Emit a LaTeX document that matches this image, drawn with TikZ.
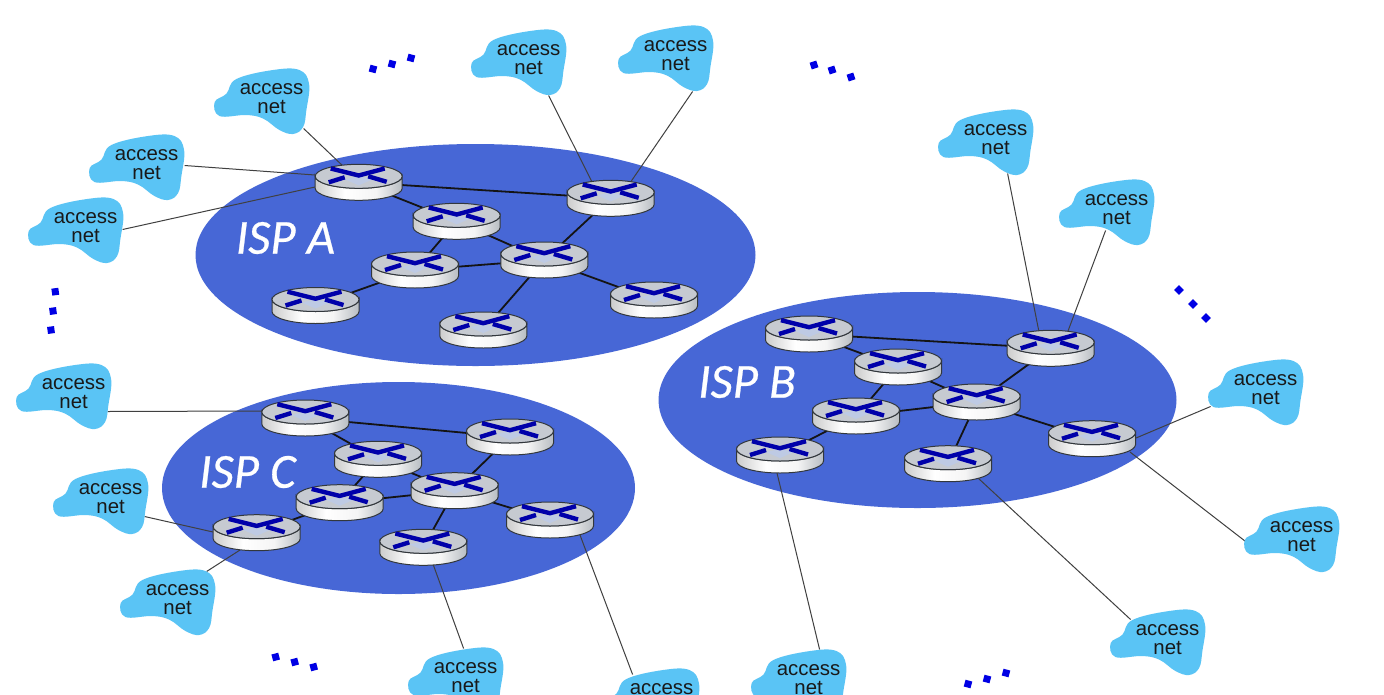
\documentclass[tikz,border=0pt]{standalone}
\usepackage{fontspec}
\setmainfont{Liberation Sans}
\newfontfamily\ispfont[ItalicFeatures={FakeBold=0.5}]{Carlito}
\definecolor{ispblue}{RGB}{71,103,214}
\definecolor{netblue}{RGB}{90,196,245}
\definecolor{xblue}{RGB}{0,0,170}
\definecolor{dotblue}{RGB}{0,0,228}
\definecolor{topgray}{RGB}{198,202,209}
\definecolor{paleblue}{RGB}{190,202,228}
\definecolor{rim}{RGB}{50,55,60}
\pgfdeclarelayer{ell}
\pgfdeclarelayer{lines}
\pgfsetlayers{ell,lines,main}
\pgfdeclarehorizontalshading{routerbody}{100bp}{
  rgb(0bp)=(0.80,0.80,0.80);
  rgb(25bp)=(0.80,0.80,0.80);
  rgb(42bp)=(1,1,1);
  rgb(60bp)=(0.96,0.96,0.96);
  rgb(75bp)=(0.72,0.74,0.76);
  rgb(100bp)=(0.72,0.74,0.76)}
\tikzset{
  x=1pt,y=-1pt,
  ispzone/.style={fill=ispblue,draw=none},
  isplabel/.style={font=\ispfont\itshape\fontsize{49}{49}\selectfont,text=white,inner sep=0pt},
  nettext/.style={font=\fontsize{20.4}{18.6}\selectfont,text=black!90,align=center,inner sep=0pt},
  netblob/.style={fill=netblue,draw=none},
  corelink/.style={draw=black!92,line width=1.8pt},
  acclink/.style={draw=black!75,line width=1pt},
  dotmark/.style={fill=dotblue,draw=none},
  pics/routerpic/.style={code={
    \path[shading=routerbody,draw=rim,line width=1pt]
      (-43.5,-6) -- (-43.5,6) arc[start angle=180,end angle=360,x radius=43.5,y radius=-12] -- (43.5,-6)
      arc[start angle=0,end angle=180,x radius=43.5,y radius=12] -- cycle;
    \path[fill=topgray,draw=rim,line width=1pt] (0,-6) ellipse[x radius=43.5,y radius=12];
    \path[fill=paleblue] (-14,-3) -- (0,-6) -- (14,-3) -- (0,3) -- cycle;
    \draw[xblue,line width=4.4pt,line join=miter] (-28,-13.8) -- (0,-6.8) -- (26,-13.8);
    \draw[xblue,line width=4.4pt] (-30,0) -- (-14,-5);
    \draw[xblue,line width=4.4pt] (9.5,-6) -- (28,-0.5);
  }}
}
\newcommand{\accnet}[3]{%
  \path[netblob,shift={(#2+0.4,#3)}] plot[smooth cycle,tension=0.65] coordinates
    {(-56.7,5) (-45,-3.3) (-35,-18) (1.7,-27) (28,-27) (37.7,-13) (35,13) (31.7,30) (21.7,37) (8,33) (-8,21.7) (-25,18) (-52,19)};
  \node[nettext] (#1) at (#2+0.6,#3+1.5) {access\\net};}
\newcommand{\router}[3]{%
  \coordinate (#1) at (#2,#3);
  \pic at (#2,#3) {routerpic};}
\newcommand{\acc}[4]{%
  \draw[acclink] ([shift={(#2)}]#1.center) -- ([shift={(#4)}]#3);}
\newcommand{\dotd}[3]{%
  \path[dotmark,shift={(#1,#2)},rotate=#3] (-3.5,-3.5) rectangle (3.5,3.5);}
\begin{document}
\begin{tikzpicture}
\useasboundingbox (0,0) rectangle (1384,694);
\begin{pgfonlayer}{ell}
  \path[fill=white] (0,0) rectangle (1384,694);
  \path[ispzone] (475.5,255) ellipse[x radius=280,y radius=111];
  \path[ispzone] (917.5,400) ellipse[x radius=259,y radius=108];
  \path[ispzone] (398.5,488) ellipse[x radius=236.5,y radius=106];
\end{pgfonlayer}

\node[isplabel] (ispa) at (285.5,238) {ISP A};
\node[isplabel] (ispb) at (747,382) {ISP B};
\node[isplabel] (ispc) at (247.5,472) {ISP C};

\router{a1}{358.7}{182.3}\router{a2}{610.7}{198.3}\router{a3}{456.7}{221.3}\router{a4}{544.3}{260}
\router{a5}{415}{270}\router{a6}{315.5}{305.5}\router{a7}{483.3}{330}\router{a8}{654}{300}
\router{b1}{809}{334}\router{b2}{1050.7}{348.3}\router{b3}{898}{367}\router{b4}{976.7}{402}
\router{b5}{856}{416}\router{b6}{780}{455}\router{b7}{948}{463.7}\router{b8}{1092}{438.7}
\router{c1}{305.3}{418}\router{c2}{510}{437}\router{c3}{378}{459.3}\router{c4}{454.7}{490.7}
\router{c5}{339.7}{502.7}\router{c6}{256.7}{532.7}\router{c7}{423.3}{547.3}\router{c8}{550}{520}

\accnet{n1}{271}{97}\accnet{n2}{146}{163}\accnet{n3}{85}{226}\accnet{n4}{528}{58}
\accnet{n5}{675}{54}\accnet{n6}{995}{138}\accnet{n7}{1116}{208}\accnet{n8}{1265}{388}
\accnet{n9}{1301}{535}\accnet{n10}{1167}{638}\accnet{n11}{808}{678}\accnet{n12}{661}{697}
\accnet{n13}{465}{676}\accnet{n14}{177}{598}\accnet{n15}{110}{497}\accnet{n16}{73}{392}

\begin{pgfonlayer}{lines}
  \foreach \p in {a,b,c}{
    \draw[corelink] (\p1) -- (\p2);
    \draw[corelink] (\p1) -- (\p3);
    \draw[corelink] (\p3) -- (\p4);
    \draw[corelink] (\p3) -- (\p5);
    \draw[corelink] (\p4) -- (\p5);
    \draw[corelink] (\p4) -- (\p2);
    \draw[corelink] (\p4) -- (\p7);
    \draw[corelink] (\p4) -- (\p8);
    \draw[corelink] (\p5) -- (\p6);
  }
  \acc{n1}{32,30}{a1}{-13.7,-14.3}
  \acc{n2}{38,1}{a1}{-43.7,-7.3}
  \acc{n3}{37,2}{a1}{-43.7,4.7}
  \acc{n4}{20,36}{a2}{-18.7,-16.3}
  \acc{n5}{17,36}{a2}{19.3,-15.3}
  \acc{n6}{12,34}{b2}{-11.7,-16.3}
  \acc{n7}{-11,21}{b2}{17.3,-17.3}
  \acc{n8}{-55,17}{b8}{44,-0.7}
  \acc{n9}{-56,5}{b8}{38,13.3}
  \acc{n10}{-37,-20}{b7}{30,14.3}
  \acc{n11}{11,-30}{b6}{-3,18}
  \acc{n12}{-29,-24}{c8}{30,15}
  \acc{n13}{-2,-29}{c7}{9.7,16.7}
  \acc{n14}{29,-28}{c6}{-16.7,17.3}
  \acc{n15}{34,18}{c6}{-43.7,-0.7}
  \acc{n16}{34,18}{c1}{-43.3,-7}
\end{pgfonlayer}

\dotd{373}{69}{-15}\dotd{392}{64}{-15}\dotd{411}{58}{-15}
\dotd{814}{65}{18}\dotd{832}{70}{18}\dotd{851}{77}{18}
\dotd{1179}{290}{45}\dotd{1193}{304}{45}\dotd{1206}{318}{45}
\dotd{55.3}{291.7}{8}\dotd{53}{311}{8}\dotd{51}{330}{8}
\dotd{275.7}{657}{15}\dotd{294.7}{662}{15}\dotd{313.7}{667}{15}
\dotd{968}{684}{-15}\dotd{987}{679}{-15}\dotd{1006}{673}{-15}
\end{tikzpicture}
\end{document}
